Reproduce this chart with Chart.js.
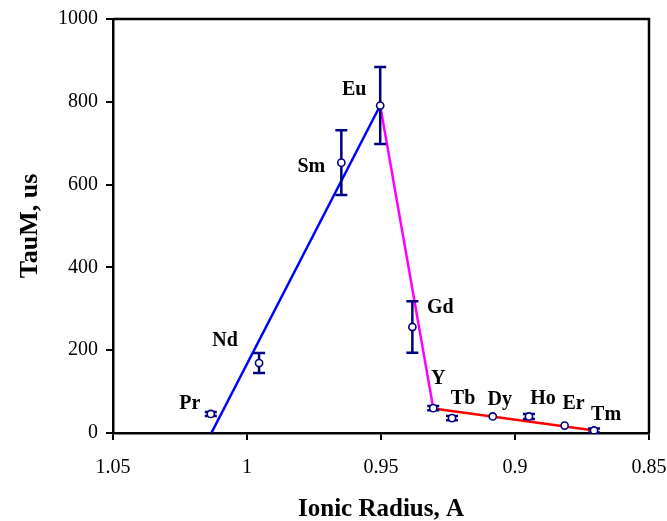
<!DOCTYPE html>
<html>
<head>
<meta charset="utf-8">
<script src="https://cdn.jsdelivr.net/npm/chart.js@4"></script>
<style>
  html, body { margin: 0; padding: 0; background: #fff; }
  #wrap { width: 667px; height: 521px; }
</style>
</head>
<body>
<div id="wrap"><canvas id="chart" width="667" height="521"></canvas></div>
<script>
// Lanthanide (and Y) water-exchange residence times vs. ionic radius
const elements    = ['Pr', 'Nd', 'Sm', 'Eu', 'Gd', 'Y', 'Tb', 'Dy', 'Ho', 'Er', 'Tm'];
const ionicRadius = [1.0135, 0.9955, 0.9648, 0.9503, 0.9383, 0.9305, 0.9235, 0.9083, 0.8948, 0.8815, 0.8705];
const tauM        = [46, 169, 653, 791, 256, 60, 36, 40, 40, 18, 6];
const tauErr      = [5, 24, 78, 93, 62, 5, 5, 0, 6, 0, 5];

// Trend segments
const riseX = [1.0133, 0.9503];
const riseY = [0, 791];
const dropX = [0.9503, 0.9305];
const dropY = [791, 60];
const tailX = [0.9305, 0.869];
const tailY = [59, 5];

// Axis ticks
const xTickValues = [1.05, 1, 0.95, 0.9, 0.85];
const xTickLabels = ['1.05', '1', '0.95', '0.9', '0.85'];
const yTickValues = [0, 200, 400, 600, 800, 1000];
const yTickLabels = ['0', '200', '400', '600', '800', '1000'];

// Label placement (pixels relative to each marker)
const labelOffsets = [[-21, -10], [-34, -22], [-30, 4], [-26, -16], [28, -19], [5, -29],
                      [11, -19], [7, -17], [14, -18], [9, -22], [12, -16]];

const SERIF = "'Liberation Serif', 'Times New Roman', serif";
const NAVY = '#000080';

const pairs = (xs, ys) => xs.map((x, i) => ({ x: x, y: ys[i] }));

const frame = {
  id: 'frame',
  afterDraw(chart) {
    const { ctx, chartArea: a } = chart;
    ctx.save();
    ctx.strokeStyle = '#000';
    ctx.lineWidth = 2.5;
    ctx.beginPath();
    ctx.moveTo(a.left, a.top);
    ctx.lineTo(a.right, a.top);
    ctx.lineTo(a.right, a.bottom);
    ctx.stroke();
    ctx.restore();
  }
};

const errorBars = {
  id: 'errorBars',
  beforeDatasetDraw(chart, args) {
    if (args.index !== 0) return;
    const { ctx, scales: { x, y } } = chart;
    ctx.save();
    ctx.strokeStyle = NAVY;
    ctx.lineWidth = 2.5;
    ionicRadius.forEach((r, i) => {
      const e = tauErr[i];
      if (!e) return;
      const px = x.getPixelForValue(r);
      const top = y.getPixelForValue(tauM[i] + e);
      const bot = y.getPixelForValue(tauM[i] - e);
      ctx.beginPath();
      ctx.moveTo(px, top); ctx.lineTo(px, bot);
      ctx.moveTo(px - 6, top); ctx.lineTo(px + 6, top);
      ctx.moveTo(px - 6, bot); ctx.lineTo(px + 6, bot);
      ctx.stroke();
    });
    ctx.restore();
  }
};

const pointLabels = {
  id: 'pointLabels',
  afterDatasetsDraw(chart) {
    const { ctx, scales: { x, y } } = chart;
    ctx.save();
    ctx.font = 'bold 20px ' + SERIF;
    ctx.fillStyle = '#000';
    ctx.textAlign = 'center';
    ctx.textBaseline = 'middle';
    elements.forEach((name, i) => {
      const px = x.getPixelForValue(ionicRadius[i]) + labelOffsets[i][0];
      const py = y.getPixelForValue(tauM[i]) + labelOffsets[i][1];
      ctx.fillText(name, px, py);
    });
    ctx.restore();
  }
};

const lineStyle = (color) => ({
  borderColor: color, backgroundColor: color, borderWidth: 2.5,
  showLine: true, pointRadius: 0, pointHoverRadius: 0, fill: false
});

new Chart(document.getElementById('chart'), {
  type: 'scatter',
  data: {
    datasets: [
      {
        label: 'TauM',
        data: pairs(ionicRadius, tauM),
        pointStyle: 'circle',
        pointRadius: 3.6,
        pointBackgroundColor: '#fff',
        pointBorderColor: NAVY,
        pointBorderWidth: 1.6,
        showLine: false
      },
      Object.assign({ label: 'rise', data: pairs(riseX, riseY) }, lineStyle('#0000FF')),
      Object.assign({ label: 'drop', data: pairs(dropX, dropY) }, lineStyle('#FF00FF')),
      Object.assign({ label: 'tail', data: pairs(tailX, tailY) }, lineStyle('#FF0000'))
    ]
  },
  options: {
    responsive: false,
    devicePixelRatio: 1,
    animation: false,
    layout: { padding: { top: 19, right: 18, left: 0, bottom: 0 } },
    plugins: { legend: { display: false }, tooltip: { enabled: false } },
    scales: {
      x: {
        type: 'linear',
        reverse: true,
        min: 0.85,
        max: 1.05,
        afterBuildTicks(s) { s.ticks = xTickValues.map(v => ({ value: v })); },
        afterFit(s) { s.height = 88; s.paddingLeft = 0; s.paddingRight = 0; },
        ticks: {
          color: '#000',
          font: { family: SERIF, size: 20 },
          padding: 16,
          maxRotation: 0,
          callback: (v) => xTickLabels[xTickValues.indexOf(Math.round(v * 100) / 100)]
        },
        grid: { drawOnChartArea: false, drawTicks: true, tickLength: 7, color: '#000', lineWidth: 2 },
        border: { display: true, color: '#000', width: 2.5 },
        title: {
          display: true,
          text: 'Ionic Radius, A',
          color: '#000',
          font: { family: SERIF, size: 25, weight: 'bold', lineHeight: 1 },
          padding: { top: 0, bottom: -1 }
        }
      },
      y: {
        min: 0,
        max: 1000,
        afterBuildTicks(s) { s.ticks = yTickValues.map(v => ({ value: v })); },
        afterFit(s) { s.width = 113; s.paddingTop = 0; s.paddingBottom = 0; },
        ticks: {
          color: '#000',
          font: { family: SERIF, size: 20 },
          padding: 8,
          callback: (v) => yTickLabels[yTickValues.indexOf(v)]
        },
        grid: { drawOnChartArea: false, drawTicks: true, tickLength: 7, color: '#000', lineWidth: 2 },
        border: { display: true, color: '#000', width: 2.5 },
        title: {
          display: true,
          text: 'TauM, us',
          color: '#000',
          font: { family: SERIF, size: 26, weight: 'bold', lineHeight: 1 },
          padding: { top: 17, bottom: 0 }
        }
      }
    }
  },
  plugins: [frame, errorBars, pointLabels]
});
</script>
</body>
</html>
